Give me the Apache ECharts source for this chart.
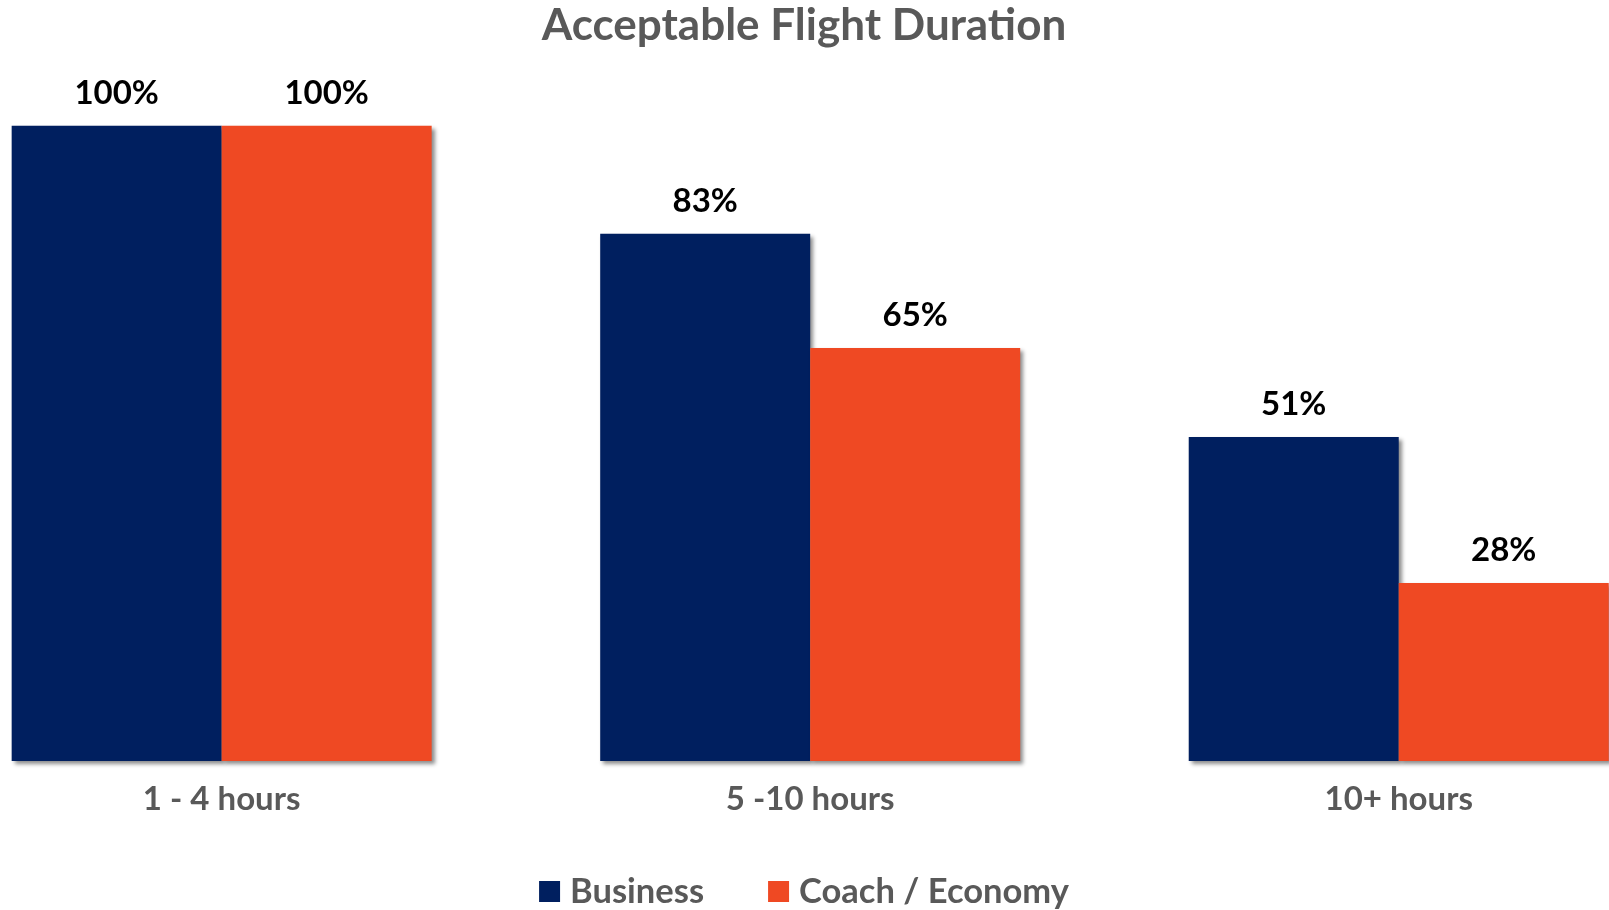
<!DOCTYPE html>
<html>
<head>
<meta charset="utf-8">
<title>Acceptable Flight Duration</title>
<script src="https://cdn.jsdelivr.net/npm/echarts@6/dist/echarts.min.js"></script>
<style>
  html, body { margin: 0; padding: 0; background: #ffffff; overflow: hidden; }
  /* the plot runs past both window edges, so the canvas is wider than the page
     and shifted left by the same amount it overflows on the right */
  #chart { position: absolute; left: -84.7px; top: 0; width: 1778.4px; height: 910px; }
</style>
</head>
<body>
<div id="chart"></div>
<script>
// Flight-length buckets and share of respondents who find them acceptable (%)
const categories = ['1 - 4 hours', '5 -10 hours', '10+ hours'];
const business = [100, 83, 51];
const coachEconomy = [100, 65, 28];
const seriesNames = ['Business', 'Coach / Economy'];

const FONT = 'Lato, "Open Sans", "Noto Sans", sans-serif';
const NAVY = '#001F5F';
const ORANGE = '#EF4923';
const GREY_TEXT = '#595959';

const chart = echarts.init(document.getElementById('chart'), null, { renderer: 'canvas' });

const barStyle = (color) => ({
  color: color,
  shadowColor: 'rgba(0,0,0,0.45)',
  shadowBlur: 4,
  shadowOffsetX: 3,
  shadowOffsetY: 3
});

const valueLabel = {
  show: true,
  position: 'top',
  distance: 16,
  formatter: '{c}%',
  color: '#000000',
  fontFamily: FONT,
  fontWeight: 'bold',
  fontSize: 33,
  lineHeight: 33
};

chart.setOption({
  animation: false,
  backgroundColor: '#ffffff',
  title: {
    text: 'Acceptable Flight Duration',
    left: 'center',
    top: -2,
    textStyle: {
      color: GREY_TEXT,
      fontFamily: FONT,
      fontWeight: 'bold',
      fontSize: 44,
      lineHeight: 46
    }
  },
  legend: {
    data: seriesNames,
    left: 'center',
    top: 874,
    padding: 0,
    icon: 'rect',
    itemWidth: 21,
    itemHeight: 21,
    itemGap: 64,
    textStyle: {
      color: GREY_TEXT,
      fontFamily: FONT,
      fontWeight: 'bold',
      fontSize: 34.5,
      padding: [0, 0, 0, 5]
    }
  },
  grid: {
    left: 12.4,
    top: 125.7,
    width: 1766,
    height: 635.3,
    containLabel: false
  },
  xAxis: {
    type: 'category',
    data: categories,
    axisLine: { show: false },
    axisTick: { show: false },
    axisLabel: {
      margin: 22,
      color: GREY_TEXT,
      fontFamily: FONT,
      fontWeight: 'bold',
      fontSize: 33,
      lineHeight: 33
    }
  },
  yAxis: {
    type: 'value',
    min: 0,
    max: 100,
    show: false,
    splitLine: { show: false }
  },
  series: [
    {
      name: seriesNames[0],
      type: 'bar',
      data: business,
      barWidth: 210,
      barGap: '0%',
      itemStyle: barStyle(NAVY),
      label: valueLabel
    },
    {
      name: seriesNames[1],
      type: 'bar',
      data: coachEconomy,
      barWidth: 210,
      barGap: '0%',
      itemStyle: barStyle(ORANGE),
      label: valueLabel
    }
  ]
});
</script>
</body>
</html>
